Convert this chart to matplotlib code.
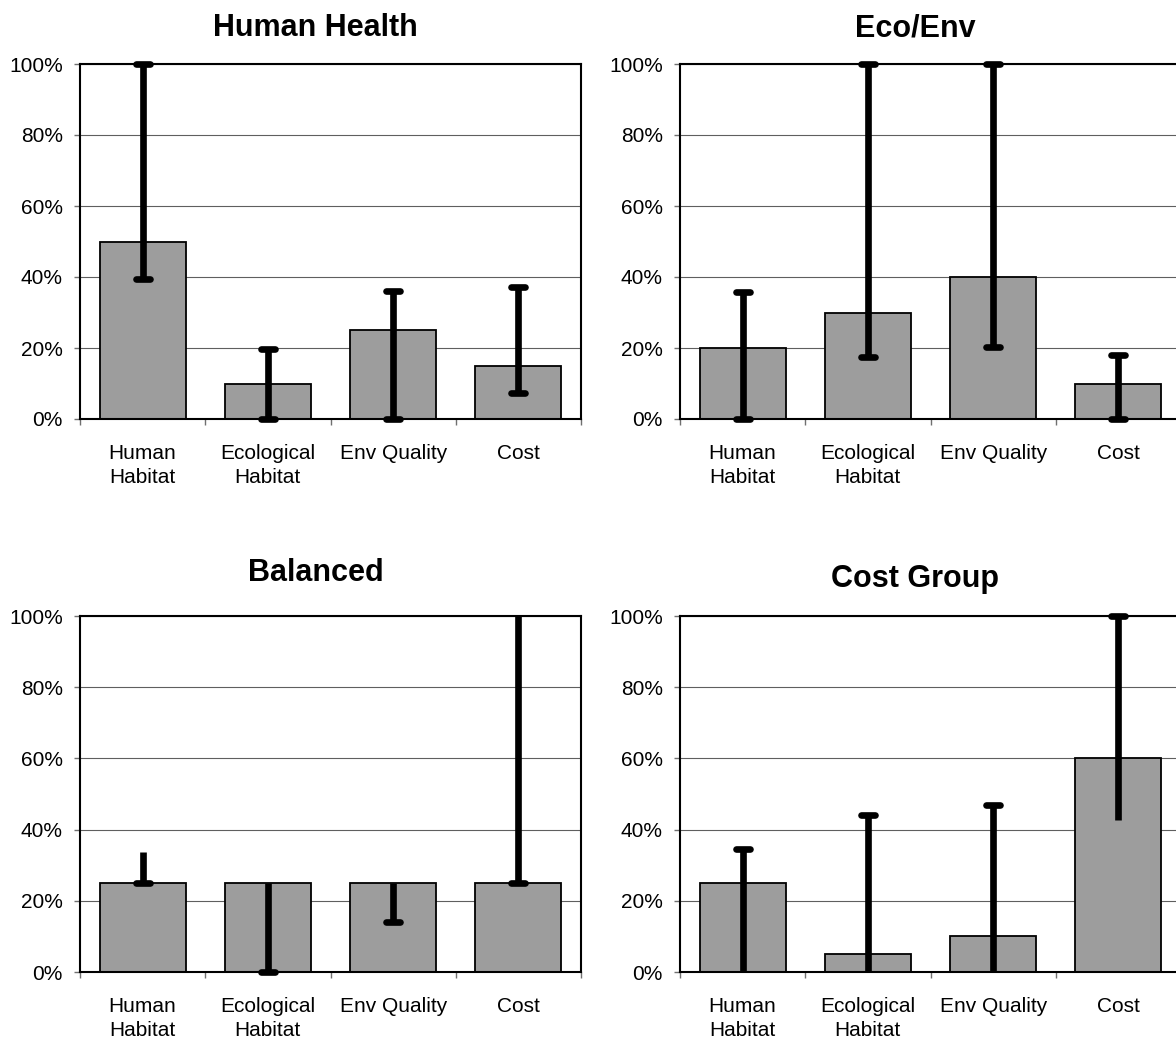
import numpy as np
import matplotlib.pyplot as plt
from matplotlib.ticker import PercentFormatter

plt.rcParams['font.family'] = ['Liberation Sans', 'DejaVu Sans']

categories = ["Human\nHabitat", "Ecological\nHabitat", "Env Quality", "Cost"]
titles = ["Human Health", "Eco/Env", "Balanced", "Cost Group"]

# bar heights and the low / high end of each range
hh_vals = [0.50, 0.10, 0.25, 0.15]
hh_low = [0.395, 0.0, 0.0, 0.073]
hh_high = [1.0, 0.197, 0.361, 0.372]

eco_vals = [0.20, 0.30, 0.40, 0.10]
eco_low = [0.0, 0.174, 0.202, 0.0]
eco_high = [0.358, 1.0, 1.0, 0.179]

bal_vals = [0.25, 0.25, 0.25, 0.25]
bal_low = [0.25, 0.0, 0.141, 0.25]
bal_high = [0.336, 0.25, 0.25, 1.0]

cost_vals = [0.25, 0.05, 0.10, 0.60]
cost_low = [0.0, 0.0, 0.0, 0.426]
cost_high = [0.345, 0.44, 0.469, 1.0]

# which end of each range carries a cap in the original
cap_ends = ["both", "both", "low", "high"]

panels = [
    (hh_vals, hh_low, hh_high),
    (eco_vals, eco_low, eco_high),
    (bal_vals, bal_low, bal_high),
    (cost_vals, cost_low, cost_high),
]

W, H = 1176, 1045
fig = plt.figure(figsize=(W / 100, H / 100), dpi=100)

# axes boxes in pixels: left, top, width, height
boxes = [(80, 64, 501, 355), (680, 64, 501, 355),
         (80, 616, 501, 356), (680, 616, 501, 356)]
title_pads = [20, 20, 25, 21]

x = np.arange(len(categories))
for i, (vals, low, high) in enumerate(panels):
    l, t, w, h = boxes[i]
    ax = fig.add_axes([l / W, 1 - (t + h) / H, w / W, h / H])

    ax.bar(x, vals, width=0.685, color='#9d9d9d', edgecolor='black',
           linewidth=1.3, zorder=2)
    ax.vlines(x, low, high, colors='black', linewidth=4.8, zorder=3)

    caps = []
    if cap_ends[i] in ("both", "low"):
        caps += list(low)
    if cap_ends[i] in ("both", "high"):
        caps += list(high)
    cap_x = np.tile(x, len(caps) // len(x))
    ax.hlines(caps, cap_x - 0.055, cap_x + 0.055, colors='black',
              linewidth=4.8, capstyle='round', zorder=4, clip_on=False)

    ax.set_xlim(-0.5, len(categories) - 0.5)
    ax.set_ylim(0, 1)
    ax.set_yticks(np.linspace(0, 1, 6))
    ax.yaxis.set_major_formatter(PercentFormatter(1.0, decimals=0))
    ax.set_xticks(np.arange(len(categories) + 1) - 0.5)
    ax.set_xticklabels([])
    ax.set_xticks(x, minor=True)
    ax.set_xticklabels(categories, minor=True)
    for lbl in ax.get_xticklabels(minor=True):
        lbl.set_linespacing(1.35)

    ax.tick_params(axis='x', which='major', length=4.5, width=1, color='#707070')
    ax.tick_params(axis='x', which='minor', length=0, pad=18, labelsize=15)
    ax.tick_params(axis='y', length=4.5, width=1, color='#707070', pad=8, labelsize=15)

    ax.set_axisbelow(True)
    ax.yaxis.grid(True, color='#5f5f5f', linewidth=0.8)
    for s in ax.spines.values():
        s.set_linewidth(1.5)
        s.set_color('black')

    ax.set_title(titles[i], x=0.47, pad=title_pads[i], fontsize=22, fontweight='bold')

fig.savefig("out.png", dpi=100)
